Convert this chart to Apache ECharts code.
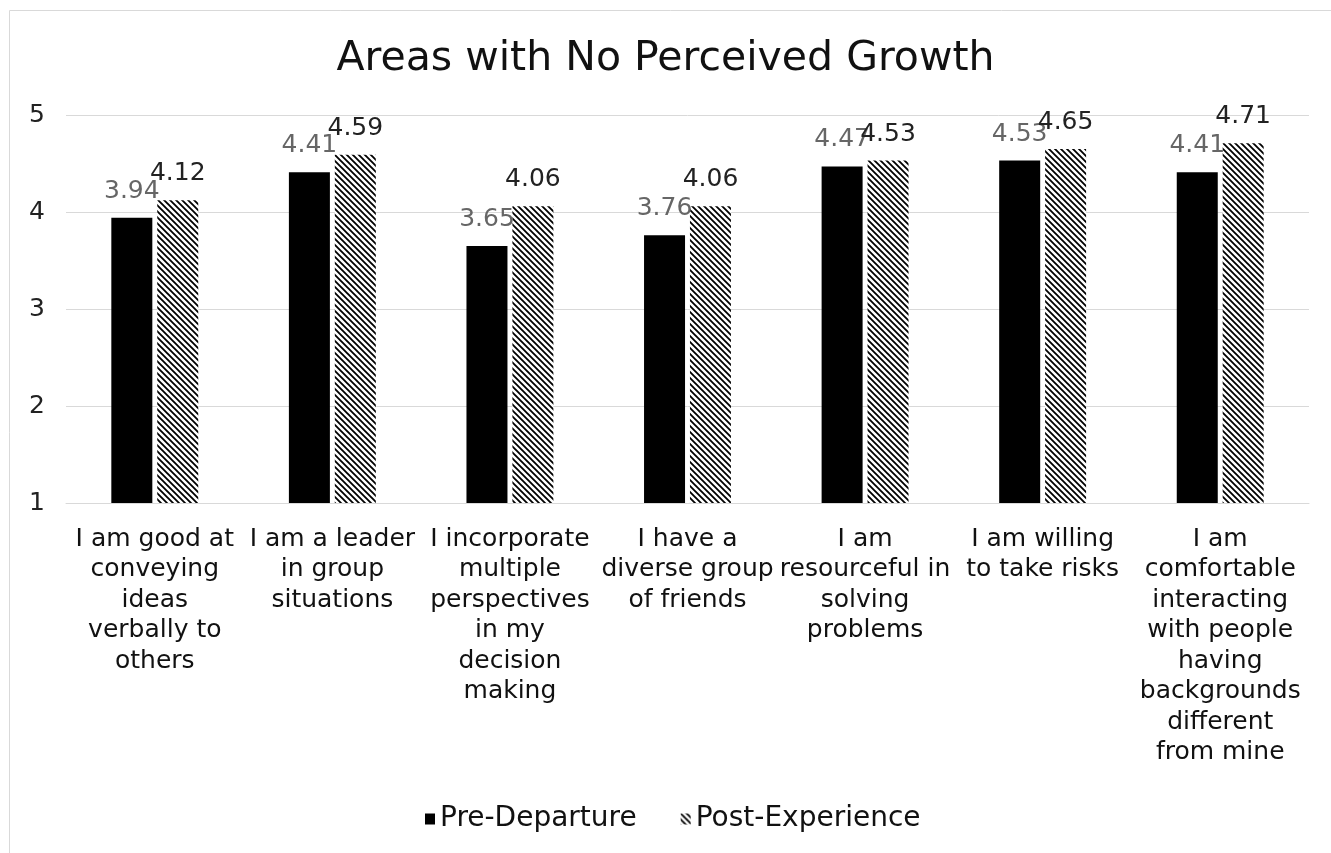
<!DOCTYPE html>
<html>
<head>
<meta charset="utf-8">
<script src="https://cdn.jsdelivr.net/npm/echarts@6/dist/echarts.min.js"></script>
<style>
  html, body { margin: 0; padding: 0; background: #fff; }
  #chart { width: 1331px; height: 853px; }
</style>
</head>
<body>
<div id="chart"></div>
<script>
// data
var categories = [
  'I am good at\nconveying\nideas\nverbally to\nothers',
  'I am a leader\nin group\nsituations',
  'I incorporate\nmultiple\nperspectives\nin my\ndecision\nmaking',
  'I have a\ndiverse group\nof friends',
  'I am\nresourceful in\nsolving\nproblems',
  'I am willing\nto take risks',
  'I am\ncomfortable\ninteracting\nwith people\nhaving\nbackgrounds\ndifferent\nfrom mine'
];
var preDeparture = [3.94, 4.41, 3.65, 3.76, 4.47, 4.53, 4.41];
var postExperience = [4.12, 4.59, 4.06, 4.06, 4.53, 4.65, 4.71];
var yTicks = [1, 2, 3, 4, 5];

var FONT = '"DejaVu Sans", Verdana, sans-serif';

// diagonal hatch pattern for the post series
function makeHatch() {
  var c = document.createElement('canvas');
  c.width = 6; c.height = 6;
  var ctx = c.getContext('2d');
  ctx.fillStyle = '#fff';
  ctx.fillRect(0, 0, 6, 6);
  ctx.strokeStyle = '#000';
  ctx.lineWidth = 1.8;
  ctx.beginPath();
  ctx.moveTo(-3, -3); ctx.lineTo(9, 9);
  ctx.moveTo(-3, 3); ctx.lineTo(3, 9);
  ctx.moveTo(3, -3); ctx.lineTo(9, 3);
  ctx.stroke();
  return c;
}
var hatch = { image: makeHatch(), repeat: 'repeat' };

var chart = echarts.init(document.getElementById('chart'));
var option = {
  animation: false,
  textStyle: { fontFamily: FONT },
  graphic: [{
    type: 'rect',
    shape: { x: 9.5, y: 10.5, width: 1400, height: 1000 },
    style: { fill: 'none', stroke: '#d9d9d9', lineWidth: 1 },
    silent: true
  }],
  title: {
    text: 'Areas with No Perceived Growth',
    left: 'center',
    top: 34,
    textStyle: { fontFamily: FONT, fontSize: 41, fontWeight: 'normal', color: '#111' }
  },
  legend: {
    top: 800,
    left: 420,
    itemWidth: 10,
    itemHeight: 11,
    itemGap: 44,
    textStyle: { fontFamily: FONT, fontSize: 28, color: '#111' },
    data: [
      { name: 'Pre-Departure', icon: 'rect' },
      { name: 'Post-Experience', icon: 'rect' }
    ]
  },
  grid: { left: 66, right: 22, top: 115, bottom: 350, containLabel: false },
  xAxis: {
    type: 'category',
    data: categories,
    axisTick: { show: false },
    axisLine: { lineStyle: { color: '#d9d9d9' } },
    axisLabel: {
      interval: 0,
      margin: 21,
      fontFamily: FONT,
      fontSize: 25,
      lineHeight: 30.5,
      color: '#111',
      align: 'center'
    }
  },
  yAxis: {
    type: 'value',
    min: yTicks[0],
    max: yTicks[yTicks.length - 1],
    interval: 1,
    axisLine: { show: false },
    axisTick: { show: false },
    splitLine: { lineStyle: { color: '#d9d9d9' } },
    axisLabel: { fontFamily: FONT, fontSize: 25, color: '#222', margin: 21 }
  },
  series: [
    {
      name: 'Pre-Departure',
      type: 'bar',
      data: preDeparture,
      barWidth: 41,
      barGap: '12%',
      itemStyle: { color: '#000' },
      label: {
        show: true,
        position: 'top',
        distance: 14,
        fontFamily: FONT,
        fontSize: 25,
        color: '#666'
      }
    },
    {
      name: 'Post-Experience',
      type: 'bar',
      data: postExperience,
      barWidth: 41,
      itemStyle: { color: hatch },
      label: {
        show: true,
        position: 'top',
        distance: 14,
        fontFamily: FONT,
        fontSize: 25,
        color: '#222'
      }
    }
  ]
};
chart.setOption(option);
</script>
</body>
</html>
